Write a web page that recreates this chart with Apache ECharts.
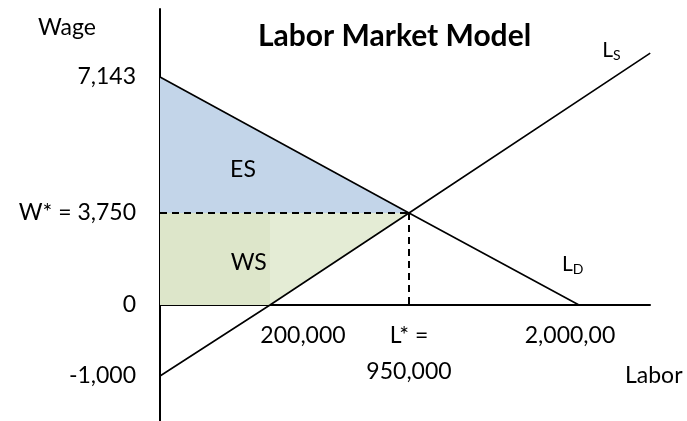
<!DOCTYPE html>
<html><head><meta charset="utf-8">
<script src="https://cdn.jsdelivr.net/npm/echarts@6/dist/echarts.min.js"></script>
<style>html,body{margin:0;padding:0;background:#fff}#c{width:687px;height:421px}</style>
</head><body><div id="c"></div>
<script>
// ---- data ----
const wageTicks = [-1000, 0, 3750, 7143];
const wageTickLabels = ['-1,000', '0', 'W* = 3,750', '7,143'];
const laborTicks = [200000, 950000, 2000000];
const laborTickLabels = ['200,000', 'L* =\n950,000', '2,000,00'];
const demandLabor = [0, 950000, 2000000];
const demandWage = [7143, 3750, 0];
const supplyLabor = [0, 200000, 950000, 2440000];
const supplyWage = [-1000, 0, 3750, 7740];
const eqLabor = 950000;
const eqWage = 3750;

// ---- schematic (not-to-scale) axis layout: real value -> diagram unit ----
const X_LAYOUT = {real: [0, 200000, 950000, 2000000], pos: [0, 110, 249, 419], min: 0, max: 490};
const Y_LAYOUT = {real: [-1000, 0, 3750, 7143], pos: [-71, 0, 92, 228], min: -116, max: 296};
const GRID = {left: 160, top: 9, width: 490, height: 412};
function piece(a, v) {
  const r = a.real, p = a.pos;
  let i = 0;
  if (v >= r[r.length - 1]) i = r.length - 2;
  else if (v > r[0]) { while (v > r[i + 1]) i++; }
  return p[i] + (v - r[i]) * (p[i + 1] - p[i]) / (r[i + 1] - r[i]);
}
const fx = v => piece(X_LAYOUT, v);
const fy = v => piece(Y_LAYOUT, v);
const pt = (l, w) => [fx(l), fy(w)];
// distance (px) from the grid bottom up to the wage = 0 line
const zeroLift = (fy(0) - Y_LAYOUT.min) * GRID.height / (Y_LAYOUT.max - Y_LAYOUT.min);

const FONT = 'Lato';
const chart = echarts.init(document.getElementById('c'), null, {renderer: 'canvas'});

function polygon(name, ls, ws, color) {
  return {
    type: 'custom', name, coordinateSystem: 'cartesian2d', silent: true, z: 1,
    data: [pt(ls[0], ws[0])],
    renderItem: (params, api) => ({
      type: 'polygon',
      shape: {points: ls.map((l, i) => api.coord(pt(l, ws[i])))},
      style: {fill: color}
    })
  };
}

const txt = (x, y, text, extra) => ({
  type: 'text', x, y,
  style: Object.assign({text, fill: '#000', fontFamily: FONT, fontSize: 23, align: 'center', verticalAlign: 'middle'}, extra || {})
});

chart.setOption({
  animation: false,
  backgroundColor: '#fff',
  title: [{
    text: 'Labor Market Model', left: 258, top: 21, padding: 0,
    textStyle: {fontFamily: FONT, fontWeight: 'bold', fontSize: 30, color: '#000'}
  }, {
    text: 'Labor', left: 625, top: 364, padding: 0,
    textStyle: {fontFamily: FONT, fontWeight: 'normal', fontSize: 23, color: '#000'}
  }],
  grid: Object.assign({containLabel: false, outerBoundsMode: 'none'}, GRID),
  xAxis: {
    type: 'value', min: X_LAYOUT.min, max: X_LAYOUT.max,
    position: 'bottom', offset: -zeroLift,
    axisLine: {show: true, onZero: false, lineStyle: {color: '#000', width: 2}},
    axisTick: {show: false},
    splitLine: {show: false},
    axisLabel: {
      show: true, margin: 13, color: '#000', fontFamily: FONT, fontSize: 23, hideOverlap: false,
      customValues: laborTicks.map(fx),
      formatter: (v) => {
        const i = laborTicks.findIndex(t => Math.abs(fx(t) - v) < 0.5);
        if (i < 0) return '';
        const key = ['a', 'b', 'c'][i];
        return laborTickLabels[i].split('\n').map(s => '{' + key + '|' + s + '}').join('\n');
      },
      rich: {
        a: {fontFamily: FONT, fontSize: 23, color: '#000', lineHeight: 36, padding: [0, 0, 0, 66]},
        b: {fontFamily: FONT, fontSize: 23, color: '#000', lineHeight: 36},
        c: {fontFamily: FONT, fontSize: 23, color: '#000', lineHeight: 36, padding: [0, 18, 0, 0]}
      }
    }
  },
  yAxis: {
    type: 'value', min: Y_LAYOUT.min, max: Y_LAYOUT.max,
    name: 'Wage', nameLocation: 'end', nameGap: -19, nameMoveOverlap: false,
    nameTextStyle: {fontFamily: FONT, fontSize: 23, color: '#000', align: 'center', verticalAlign: 'middle', padding: [0, 186, 0, 0]},
    axisLine: {show: true, onZero: false, lineStyle: {color: '#000', width: 2}},
    axisTick: {show: false},
    splitLine: {show: false},
    axisLabel: {
      show: true, margin: 24, color: '#000', fontFamily: FONT, fontSize: 23, hideOverlap: false,
      customValues: wageTicks.map(fy),
      formatter: (v) => {
        const i = wageTicks.findIndex(t => Math.abs(fy(t) - v) < 0.5);
        return i < 0 ? '' : wageTickLabels[i];
      }
    }
  },
  series: [
    polygon('ES', [0, eqLabor, 0], [demandWage[0], eqWage, eqWage], '#c3d5e9'),
    polygon('WS-rect', [0, supplyLabor[1], supplyLabor[1], 0], [eqWage, eqWage, 0, 0], '#dde6ca'),
    polygon('WS-tri', [supplyLabor[1], eqLabor, supplyLabor[1]], [0, eqWage, eqWage], '#e4ecd5'),
    {
      type: 'line', name: 'W*', z: 3, silent: true, symbol: 'none',
      data: [pt(0, eqWage), pt(eqLabor, eqWage)],
      lineStyle: {color: '#000', width: 2, type: [7, 5]}
    },
    {
      type: 'line', name: 'L*', z: 3, silent: true, symbol: 'none',
      data: [pt(eqLabor, eqWage), pt(eqLabor, 0)],
      lineStyle: {color: '#000', width: 2, type: [7, 5]}
    },
    {
      type: 'line', name: 'Demand', z: 4, silent: true, symbol: 'none',
      data: demandLabor.map((l, i) => pt(l, demandWage[i])),
      lineStyle: {color: '#000', width: 1.6}
    },
    {
      type: 'line', name: 'Supply', z: 4, silent: true, symbol: 'none',
      data: supplyLabor.map((l, i) => pt(l, supplyWage[i])),
      lineStyle: {color: '#000', width: 1.6}
    },
    {
      type: 'custom', name: 'annotations', coordinateSystem: 'cartesian2d', silent: true, z: 5,
      data: [pt(0, 0)],
      renderItem: (params, api) => {
        const a = api.coord(pt(0, demandWage[0]));
        const b = api.coord(pt(eqLabor, eqWage));
        const c = api.coord(pt(0, eqWage));
        const o = api.coord(pt(0, 0));
        const s0 = api.coord(pt(supplyLabor[1], 0));
        const sEnd = api.coord(pt(supplyLabor[supplyLabor.length - 1], supplyWage[supplyWage.length - 1]));
        const dEnd = api.coord(pt(demandLabor[demandLabor.length - 1], demandWage[demandWage.length - 1]));
        const esX = (a[0] + b[0] + c[0]) / 3, esY = (a[1] + b[1] + c[1]) / 3;
        const wsX = (o[0] + s0[0] + b[0] + c[0]) / 4, wsY = (o[1] + s0[1] + b[1] + c[1]) / 4;
        const sub = {
          align: 'left',
          rich: {
            m: {fontFamily: FONT, fontSize: 21, color: '#000'},
            s: {fontFamily: FONT, fontSize: 14, color: '#000', padding: [10, 0, 0, 0]}
          }
        };
        return {
          type: 'group',
          children: [
            txt(esX, esY + 2, 'ES'),
            txt(wsX - 1, wsY + 4, 'WS'),
            txt(sEnd[0] - 48, sEnd[1] - 3, '{m|L}{s|S}', sub),
            txt(dEnd[0] - 17, dEnd[1] - 41, '{m|L}{s|D}', sub)
          ]
        };
      }
    }
  ]
});
</script>
</body></html>
